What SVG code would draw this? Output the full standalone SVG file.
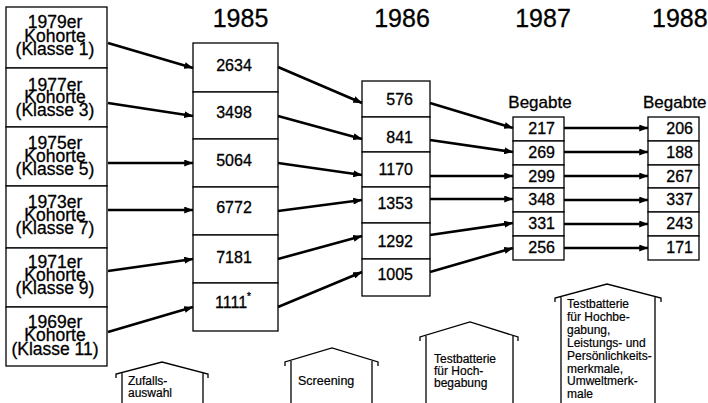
<svg xmlns="http://www.w3.org/2000/svg" width="708" height="403" viewBox="0 0 708 403">
<defs>
<marker id="ah" viewBox="0 0 10 8" refX="10" refY="4" markerWidth="9" markerHeight="7" markerUnits="userSpaceOnUse" orient="auto">
<path d="M0,0 L10,4 L0,8 z" fill="#000"/>
</marker>
<style>
text{font-family:"Liberation Sans",Arial,Helvetica,sans-serif;fill:#000;stroke:#000;stroke-width:0.3}
.box{fill:#fff;stroke:#000;stroke-width:1.3}
.coh{font-size:17.5px;text-anchor:middle}
.num{font-size:16px}
.mid{text-anchor:middle}
.end{text-anchor:end}
.yr{font-size:25px}
.beg{font-size:17px}
.arr line{stroke:#000;stroke-width:2.6;marker-end:url(#ah)}
.house{fill:none;stroke:#000;stroke-width:1.3}
.ht{font-size:12px;stroke-width:0.2}
</style>
</defs>
<rect width="708" height="403" fill="#fff"/>

<g id="headers">
<text class="yr mid" x="240.5" y="27">1985</text>
<text class="yr mid" x="402" y="27">1986</text>
<text class="yr mid" x="543" y="27">1987</text>
<text class="yr" x="652" y="27">1988</text>
<text class="beg mid" x="540" y="108">Begabte</text>
<text class="beg" x="643" y="108">Begabte</text>
</g>

<g id="kohorten">
<g id="k1979"><rect class="box" x="6" y="7" width="101" height="61"/>
<text class="coh" x="55" y="28">1979er</text><text class="coh" x="55" y="41.5">Kohorte</text><text class="coh" x="55" y="55">(Klasse 1)</text></g>
<g id="k1977"><rect class="box" x="6" y="68" width="101" height="59"/>
<text class="coh" x="55" y="90.5">1977er</text><text class="coh" x="55" y="103">Kohorte</text><text class="coh" x="55" y="115.5">(Klasse 3)</text></g>
<g id="k1975"><rect class="box" x="6" y="127" width="101" height="59"/>
<text class="coh" x="55" y="149">1975er</text><text class="coh" x="55" y="162">Kohorte</text><text class="coh" x="55" y="175">(Klasse 5)</text></g>
<g id="k1973"><rect class="box" x="6" y="186" width="101" height="62"/>
<text class="coh" x="55" y="208">1973er</text><text class="coh" x="55" y="221">Kohorte</text><text class="coh" x="55" y="234">(Klasse 7)</text></g>
<g id="k1971"><rect class="box" x="6" y="248" width="101" height="59"/>
<text class="coh" x="55" y="268">1971er</text><text class="coh" x="55" y="281">Kohorte</text><text class="coh" x="55" y="294">(Klasse 9)</text></g>
<g id="k1969"><rect class="box" x="6" y="307" width="101" height="59"/>
<text class="coh" x="55" y="328">1969er</text><text class="coh" x="55" y="341">Kohorte</text><text class="coh" x="55" y="355">(Klasse 11)</text></g>
</g>

<g id="y1985">
<g id="n2634"><rect class="box" x="193" y="43" width="85" height="49"/><text class="num mid" x="234" y="71">2634</text></g>
<g id="n3498"><rect class="box" x="193" y="92" width="85" height="47"/><text class="num mid" x="234" y="118">3498</text></g>
<g id="n5064"><rect class="box" x="193" y="139" width="85" height="48"/><text class="num mid" x="234" y="166">5064</text></g>
<g id="n6772"><rect class="box" x="193" y="187" width="85" height="48"/><text class="num mid" x="234" y="213">6772</text></g>
<g id="n7181"><rect class="box" x="193" y="235" width="85" height="48"/><text class="num mid" x="234" y="263">7181</text></g>
<g id="n1111"><rect class="box" x="193" y="283" width="85" height="48"/><text class="num" x="215" y="308">1111<tspan dy="-8" font-size="10">*</tspan></text></g>
</g>

<g id="y1986">
<g id="n576"><rect class="box" x="362" y="81" width="68" height="36"/><text class="num end" x="413" y="105">576</text></g>
<g id="n841"><rect class="box" x="362" y="117" width="68" height="35"/><text class="num end" x="413" y="143">841</text></g>
<g id="n1170"><rect class="box" x="362" y="152" width="68" height="35"/><text class="num end" x="413" y="175">1170</text></g>
<g id="n1353"><rect class="box" x="362" y="187" width="68" height="36"/><text class="num end" x="413" y="209">1353</text></g>
<g id="n1292"><rect class="box" x="362" y="223" width="68" height="36"/><text class="num end" x="413" y="247">1292</text></g>
<g id="n1005"><rect class="box" x="362" y="259" width="68" height="37"/><text class="num end" x="413" y="280">1005</text></g>
</g>

<g id="y1987">
<g id="n217"><rect class="box" x="513" y="117" width="51" height="24"/><text class="num end" x="555" y="134">217</text></g>
<g id="n269"><rect class="box" x="513" y="141" width="51" height="24"/><text class="num end" x="555" y="158">269</text></g>
<g id="n299"><rect class="box" x="513" y="165" width="51" height="23"/><text class="num end" x="555" y="181.5">299</text></g>
<g id="n348"><rect class="box" x="513" y="188" width="51" height="24"/><text class="num end" x="555" y="205">348</text></g>
<g id="n331"><rect class="box" x="513" y="212" width="51" height="24"/><text class="num end" x="555" y="229">331</text></g>
<g id="n256"><rect class="box" x="513" y="236" width="51" height="24"/><text class="num end" x="555" y="253">256</text></g>
</g>

<g id="y1988">
<g id="n206"><rect class="box" x="648" y="117" width="51" height="24"/><text class="num end" x="693" y="134">206</text></g>
<g id="n188"><rect class="box" x="648" y="141" width="51" height="24"/><text class="num end" x="693" y="158">188</text></g>
<g id="n267"><rect class="box" x="648" y="165" width="51" height="23"/><text class="num end" x="693" y="181.5">267</text></g>
<g id="n337"><rect class="box" x="648" y="188" width="51" height="24"/><text class="num end" x="693" y="205">337</text></g>
<g id="n243"><rect class="box" x="648" y="212" width="51" height="24"/><text class="num end" x="693" y="229">243</text></g>
<g id="n171"><rect class="box" x="648" y="236" width="51" height="24"/><text class="num end" x="693" y="253">171</text></g>
</g>

<g id="connectors" class="arr">
<line x1="108" y1="43" x2="193" y2="68"/>
<line x1="108" y1="103" x2="193" y2="116"/>
<line x1="108" y1="163" x2="193" y2="163"/>
<line x1="108" y1="210" x2="193" y2="210"/>
<line x1="108" y1="271" x2="193" y2="259"/>
<line x1="108" y1="332" x2="193" y2="307"/>
<line x1="278" y1="67" x2="362" y2="103"/>
<line x1="278" y1="116" x2="362" y2="139"/>
<line x1="278" y1="163" x2="362" y2="175"/>
<line x1="278" y1="211" x2="362" y2="200"/>
<line x1="278" y1="259" x2="362" y2="236"/>
<line x1="278" y1="307" x2="362" y2="272"/>
<line x1="430" y1="103" x2="513" y2="128"/>
<line x1="430" y1="140" x2="513" y2="152"/>
<line x1="430" y1="176" x2="513" y2="176"/>
<line x1="430" y1="199" x2="513" y2="199"/>
<line x1="430" y1="235" x2="513" y2="223"/>
<line x1="430" y1="272" x2="513" y2="248"/>
<line x1="564" y1="128" x2="648" y2="128"/>
<line x1="564" y1="152" x2="648" y2="152"/>
<line x1="564" y1="176" x2="648" y2="176"/>
<line x1="564" y1="200" x2="648" y2="200"/>
<line x1="564" y1="224" x2="648" y2="224"/>
<line x1="564" y1="248" x2="648" y2="248"/>
</g>

<g id="house-zufall">
<path class="house" d="M116,378 V374 L162,362 L208,374 V378 M122,373 V403 M203,373 V403"/>
<text class="ht" x="128" y="385">Zufalls-</text>
<text class="ht" x="128" y="397">auswahl</text>
</g>
<g id="house-screening">
<path class="house" d="M285,366 V362 L332,348 L378,362 V366 M291,361 V403 M372,361 V403"/>
<text class="ht" x="298" y="385" style="font-size:12.5px">Screening</text>
</g>
<g id="house-test">
<path class="house" d="M420,341 V337 L470,322 L518,337 V341 M426,336 V403 M513,336 V403"/>
<text class="ht" x="434" y="363">Testbatterie</text>
<text class="ht" x="434" y="375">für Hoch-</text>
<text class="ht" x="434" y="386.5">begabung</text>
</g>
<g id="house-full">
<path class="house" d="M555,302 V298 L607,284 L661,298 V302 M561,297 V403 M655,297 V403"/>
<text class="ht" x="567" y="308">Testbatterie</text>
<text class="ht" x="567" y="321">für Hochbe-</text>
<text class="ht" x="567" y="334">gabung,</text>
<text class="ht" x="567" y="347">Leistungs- und</text>
<text class="ht" x="567" y="360">Persönlichkeits-</text>
<text class="ht" x="567" y="372.5">merkmale,</text>
<text class="ht" x="567" y="385">Umweltmerk-</text>
<text class="ht" x="567" y="398">male</text>
</g>
</svg>
